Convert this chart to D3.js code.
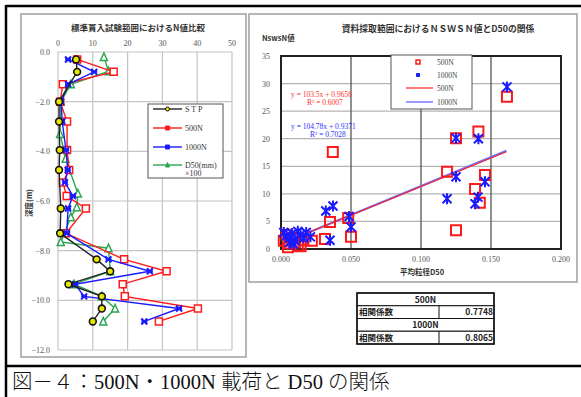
<!DOCTYPE html>
<html>
<head>
<meta charset="utf-8">
<script src="https://cdn.jsdelivr.net/npm/d3@7"></script>
<style>
  html, body { margin: 0; padding: 0; background: #fff; }
  svg { display: block; }
  text { font-family: "Liberation Serif", "DejaVu Serif", "Noto Sans CJK JP", serif; }
  .jp { font-family: "Noto Sans CJK JP", sans-serif; }
</style>
</head>
<body>
<svg id="fig" width="581" height="397"></svg>
<script>
// ---- depth profiles (depth in m, value = N or D50(mm)*100) ----
const stpDepth  = [0.3, 0.8, 2.0, 2.8, 3.95, 4.75, 6.3, 7.3, 8.35, 8.83, 9.35, 9.84, 10.33, 10.85];
const stpN      = [5.2, 5.5, 0.3, 0.3, 0.5, 0.3, 0.8, 0.6, 11.1, 15.0, 3.0, 12.6, 12.6, 10.0];

const loadDepth = [0.3, 0.8, 1.3, 2.0, 2.8, 3.95, 4.75, 5.25, 5.8, 6.3, 7.3, 8.35, 8.83, 9.35, 9.84, 10.33, 10.85];
const n500      = [5.5, 16.0, 1.4, 0.6, 2.6, 2.6, 3.2, 1.4, 2.5, 8.0, 2.3, 19.0, 31.2, 18.6, 19.2, 40.2, 29.0];
const n1000     = [2.9, 10.4, 2.9, 0.9, 1.2, 2.3, 2.8, 2.0, 4.3, 2.9, 2.5, 14.5, 26.4, 4.9, 7.5, 34.8, 24.8];

const d50Depth  = [0.2, 0.78, 1.3, 2.0, 3.3, 4.3, 5.7, 6.25, 6.65, 7.65, 7.9, 8.83, 9.35, 9.84, 10.33, 10.85];
const d50x100   = [13.2, 14.5, 3.7, 0.8, 0.6, 2.2, 5.7, 5.4, 3.7, 0.8, 14.5, 15.0, 4.6, 12.6, 16.4, 13.0];

const depthTicks = [0, -2, -4, -6, -8, -10, -12];
const nTicks     = [0, 10, 20, 30, 40, 50];

// ---- NswsN vs D50 scatter ----
const d50For500  = [0.1614, 0.141, 0.125, 0.037, 0.1186, 0.1457, 0.1386, 0.142, 0.035, 0.048, 0.050, 0.125, 0.0314, 0.022,
                    0.002, 0.004, 0.006, 0.008, 0.010, 0.012, 0.014, 0.016, 0.005];
const nsws500    = [27.6, 21.3, 20.1, 17.6, 14.0, 13.4, 10.9, 8.4, 4.9, 5.6, 2.2, 3.4, 1.8, 1.5,
                    1.5, 2.6, 1.0, 2.0, 1.2, 0.6, 0.5, 1.6, 0.3];
const d50For1000 = [0.1614, 0.125, 0.141, 0.125, 0.1457, 0.1186, 0.1407, 0.1386, 0.0371, 0.032, 0.0486, 0.050, 0.035, 0.021,
                    0.002, 0.004, 0.006, 0.008, 0.010, 0.012, 0.014, 0.016, 0.018, 0.006, 0.009];
const nsws1000   = [29.4, 20.1, 20.0, 13.1, 12.2, 9.1, 9.4, 8.2, 7.8, 6.9, 5.9, 4.0, 1.6, 2.2,
                    3.0, 2.4, 2.0, 2.8, 1.5, 3.2, 2.6, 2.0, 3.0, 1.2, 0.9];

const fit500  = { slope: 103.5,  intercept: 0.9656, r2: "0.6007" };
const fit1000 = { slope: 104.78, intercept: 0.9371, r2: "0.7028" };
const fitRange = [0.002, 0.161];

const d50Ticks  = [0, 0.05, 0.1, 0.15, 0.2];
const nswsTicks = [0, 5, 10, 15, 20, 25, 30, 35];

const corrRows = [["500N", null], ["相関係数", "0.7748"], ["1000N", null], ["相関係数", "0.8065"]];

const svg = d3.select("#fig");
svg.append("rect").attr("width", 581).attr("height", 397).attr("fill", "#fff");

// ---------- outer frame ----------
svg.append("line").attr("x1", 6).attr("x2", 581).attr("y1", 6).attr("y2", 6).attr("stroke", "#000").attr("stroke-width", 2.5);
svg.append("line").attr("x1", 6).attr("x2", 6).attr("y1", 5).attr("y2", 397).attr("stroke", "#000").attr("stroke-width", 2.5);
svg.append("line").attr("x1", 5).attr("x2", 581).attr("y1", 366).attr("y2", 366).attr("stroke", "#000").attr("stroke-width", 2.5);

// chart area boxes
svg.append("rect").attr("x", 21).attr("y", 14).attr("width", 225).attr("height", 343)
  .attr("fill", "#fff").attr("stroke", "#a0a0a0").attr("stroke-width", 1.5);
svg.append("rect").attr("x", 249).attr("y", 14).attr("width", 328).attr("height", 268)
  .attr("fill", "#fff").attr("stroke", "#a0a0a0").attr("stroke-width", 1.5);

// ================= left: depth profile =================
const xL = d3.scaleLinear().domain([0, 50]).range([58, 232]);
const yL = d3.scaleLinear().domain([0, -12]).range([52, 350]);
const gL = svg.append("g");

gL.selectAll(".vg").data(nTicks).join("line")
  .attr("x1", d => xL(d)).attr("x2", d => xL(d)).attr("y1", yL(0)).attr("y2", yL(-12))
  .attr("stroke", "#c4c4c4").attr("stroke-width", 1.2);
gL.selectAll(".hg").data(depthTicks).join("line")
  .attr("x1", xL(0)).attr("x2", xL(50)).attr("y1", d => yL(d)).attr("y2", d => yL(d))
  .attr("stroke", "#c4c4c4").attr("stroke-width", 1.2);

gL.selectAll(".xt").data(nTicks).join("text")
  .attr("x", d => xL(d)).attr("y", 46).attr("text-anchor", "middle")
  .attr("font-size", 8).attr("fill", "#555").text(d => d);
gL.selectAll(".yt").data(depthTicks).join("text")
  .attr("x", 50).attr("y", d => yL(d) + 3).attr("text-anchor", "end")
  .attr("font-size", 8).attr("fill", "#555").text(d => d3.format(".1f")(d));

gL.append("text").attr("class", "jp").attr("x", 138).attr("y", 31).attr("text-anchor", "middle")
  .attr("font-size", 8.5).attr("font-weight", "bold").attr("fill", "#333")
  .text("標準貫入試験範囲におけるN値比較");
gL.append("text").attr("class", "jp")
  .attr("transform", `translate(32,203) rotate(-90)`).attr("text-anchor", "middle")
  .attr("font-size", 7.5).attr("font-weight", "bold").attr("fill", "#333").text("深度(m)");

const lineL = (depths) => d3.line().x((d) => xL(d)).y((d, i) => yL(-depths[i]));

function markerPath(kind, s) {
  const h = s / 2;
  if (kind === "square") return `M${-h},${-h}h${s}v${s}h${-s}Z`;
  if (kind === "tri") return `M0,${-h - 0.5}L${h},${h}L${-h},${h}Z`;
  if (kind === "x") return `M${-h},${-h}L${h},${h}M${-h},${h}L${h},${-h}M${-h},0H${h}`;
  if (kind === "star") return `M${-h},${-h}L${h},${h}M${-h},${h}L${h},${-h}M0,${-h - 1}V${h + 1}`;
  return "";
}

const series = [
  { vals: d50x100, depth: d50Depth, color: "#2aa552", kind: "tri", fill: "#fff", size: 7 },
  { vals: n500, depth: loadDepth, color: "#ff1a1a", kind: "square", fill: "#fff", size: 7 },
  { vals: n1000, depth: loadDepth, color: "#1a1aff", kind: "x", fill: "none", size: 6 },
  { vals: stpN, depth: stpDepth, color: "#222", kind: "circle", fill: "#e6e600", size: 7 },
];
series.forEach(s => {
  gL.append("path").attr("d", lineL(s.depth)(s.vals)).attr("fill", "none")
    .attr("stroke", s.color).attr("stroke-width", 1.4);
  const pts = gL.append("g").selectAll("g").data(s.vals).join("g")
    .attr("transform", (d, i) => `translate(${xL(d)},${yL(-s.depth[i])})`);
  if (s.kind === "circle") {
    pts.append("circle").attr("r", 3.4).attr("fill", s.fill).attr("stroke", "#111").attr("stroke-width", 1.6);
  } else {
    pts.append("path").attr("d", markerPath(s.kind, s.size)).attr("fill", s.fill)
      .attr("stroke", s.color).attr("stroke-width", s.kind === "x" ? 2 : 1.5);
  }
});

// left legend
const legL = gL.append("g");
legL.append("rect").attr("x", 148).attr("y", 104).attr("width", 75).attr("height", 74)
  .attr("fill", "#fff").attr("stroke", "#555").attr("stroke-width", 1);
const legItems = [
  { label: "S T P", y: 109, s: series[3] },
  { label: "500N", y: 128, s: series[1] },
  { label: "1000N", y: 147, s: series[2] },
  { label: "D50(mm)", y: 165, s: series[0] },
];
legItems.forEach(it => {
  legL.append("line").attr("x1", 153).attr("x2", 182).attr("y1", it.y).attr("y2", it.y)
    .attr("stroke", it.s.color).attr("stroke-width", 1.4);
  if (it.s.kind === "circle") {
    legL.append("circle").attr("cx", 167.5).attr("cy", it.y).attr("r", 2).attr("fill", it.s.fill)
      .attr("stroke", "#111").attr("stroke-width", 1);
  } else {
    legL.append("path").attr("transform", `translate(167.5,${it.y})`)
      .attr("d", markerPath(it.s.kind === "x" ? "square" : it.s.kind, 4))
      .attr("fill", it.s.color).attr("stroke", it.s.color).attr("stroke-width", 1);
  }
  legL.append("text").attr("x", 185).attr("y", it.y + 3).attr("font-size", 8).attr("fill", "#333").text(it.label);
});
legL.append("text").attr("x", 185).attr("y", 176).attr("font-size", 8).attr("fill", "#333").text("×100");

// ================= right: NswsN vs D50 =================
const xR = d3.scaleLinear().domain([0, 0.2]).range([281, 561]);
const yR = d3.scaleLinear().domain([0, 35]).range([249, 56]);
const gR = svg.append("g");

gR.selectAll(".hg").data(nswsTicks.slice(1, -1)).join("line")
  .attr("x1", xR(0)).attr("x2", xR(0.2)).attr("y1", d => yR(d)).attr("y2", d => yR(d))
  .attr("stroke", "#b4b4b4").attr("stroke-width", 1.2);
gR.selectAll(".vg").data(d50Ticks.slice(1, -1)).join("line")
  .attr("x1", d => xR(d)).attr("x2", d => xR(d)).attr("y1", yR(0)).attr("y2", yR(35))
  .attr("stroke", "#555").attr("stroke-width", 1.3);
gR.append("rect").attr("x", xR(0)).attr("y", yR(35)).attr("width", xR(0.2) - xR(0)).attr("height", yR(0) - yR(35))
  .attr("fill", "none").attr("stroke", "#222").attr("stroke-width", 2);

gR.selectAll(".yt").data(nswsTicks).join("text")
  .attr("x", 270).attr("y", d => yR(d) + 3).attr("text-anchor", "end")
  .attr("font-size", 8).attr("fill", "#555").text(d => d);
gR.selectAll(".xt").data(d50Ticks).join("text")
  .attr("x", d => xR(d)).attr("y", 262).attr("text-anchor", "middle")
  .attr("font-size", 8).attr("fill", "#555").text(d => d3.format(".3f")(d));

gR.append("text").attr("class", "jp").attr("x", 438).attr("y", 32).attr("text-anchor", "middle")
  .attr("font-size", 8.8).attr("font-weight", "bold").attr("fill", "#333")
  .text("資料採取範囲におけるＮＳＷＳＮ値とD50の関係");
gR.append("text").attr("class", "jp").attr("x", 262).attr("y", 41)
  .attr("font-size", 7.5).attr("font-weight", "bold").attr("fill", "#333").text("NswsN値");
gR.append("text").attr("class", "jp").attr("x", 422).attr("y", 275).attr("text-anchor", "middle")
  .attr("font-size", 7.5).attr("font-weight", "bold").attr("fill", "#333").text("平均粒径D50");

// trend lines
[[fit1000, "#7070ff", 2.2], [fit500, "#ff2020", 1.2]].forEach(([f, c, w]) => {
  gR.append("line")
    .attr("x1", xR(fitRange[0])).attr("y1", yR(f.slope * fitRange[0] + f.intercept))
    .attr("x2", xR(fitRange[1])).attr("y2", yR(f.slope * fitRange[1] + f.intercept))
    .attr("stroke", c).attr("stroke-width", w);
});

// scatter marks
gR.append("g").selectAll("path").data(d50For500).join("path")
  .attr("transform", (d, i) => `translate(${xR(d)},${yR(nsws500[i])})`)
  .attr("d", markerPath("square", 10)).attr("fill", "none").attr("stroke", "#ff1a1a").attr("stroke-width", 2);
gR.append("g").selectAll("path").data(d50For1000).join("path")
  .attr("transform", (d, i) => `translate(${xR(d)},${yR(nsws1000[i])})`)
  .attr("d", markerPath("star", 9)).attr("fill", "none").attr("stroke", "#1a1aff").attr("stroke-width", 2);

// equations
gR.append("text").attr("x", 291).attr("y", 97).attr("font-size", 7.5).attr("fill", "#ff3030")
  .text(`y = ${fit500.slope}x + ${fit500.intercept}`);
gR.append("text").attr("x", 307).attr("y", 105).attr("font-size", 7.5).attr("fill", "#ff3030")
  .text(`R² = ${fit500.r2}`);
gR.append("text").attr("x", 291).attr("y", 129).attr("font-size", 7.5).attr("fill", "#3030ff")
  .text(`y = ${fit1000.slope}x + ${fit1000.intercept}`);
gR.append("text").attr("x", 310).attr("y", 137).attr("font-size", 7.5).attr("fill", "#3030ff")
  .text(`R² = ${fit1000.r2}`);

// right legend
const legR = gR.append("g");
legR.append("rect").attr("x", 391).attr("y", 55).attr("width", 81).attr("height", 54)
  .attr("fill", "#fff").attr("stroke", "#555").attr("stroke-width", 1);
legR.append("path").attr("transform", "translate(418,62)").attr("d", markerPath("square", 4))
  .attr("fill", "#fff").attr("stroke", "#ff1a1a").attr("stroke-width", 1.5);
legR.append("path").attr("transform", "translate(418,75)").attr("d", markerPath("square", 3))
  .attr("fill", "#1a1aff").attr("stroke", "#1a1aff").attr("stroke-width", 1);
legR.append("line").attr("x1", 406).attr("x2", 433).attr("y1", 88).attr("y2", 88).attr("stroke", "#ff3030").attr("stroke-width", 1.3);
legR.append("line").attr("x1", 406).attr("x2", 433).attr("y1", 102).attr("y2", 102).attr("stroke", "#9090ff").attr("stroke-width", 1.8);
[["500N", 62], ["1000N", 75], ["500N", 88], ["1000N", 102]].forEach(([t, y]) => {
  legR.append("text").attr("x", 437).attr("y", y + 3).attr("font-size", 7.5).attr("fill", "#444").text(t);
});

// correlation table
const tb = svg.append("g");
const tX0 = 357, tX1 = 494, tXm = 439, tY0 = 293, rowH = 12.75;
corrRows.forEach((r, i) => {
  const y = tY0 + i * rowH;
  tb.append("rect").attr("x", tX0).attr("y", y).attr("width", tX1 - tX0).attr("height", rowH)
    .attr("fill", "#fff").attr("stroke", "#111").attr("stroke-width", 1);
  if (r[1] === null) {
    tb.append("text").attr("class", "jp").attr("x", (tX0 + tX1) / 2).attr("y", y + 9.5).attr("text-anchor", "middle")
      .attr("font-size", 8.5).attr("font-weight", "bold").attr("fill", "#222").text(r[0]);
  } else {
    tb.append("line").attr("x1", tXm).attr("x2", tXm).attr("y1", y).attr("y2", y + rowH).attr("stroke", "#111");
    tb.append("text").attr("class", "jp").attr("x", tX0 + 2).attr("y", y + 9.5)
      .attr("font-size", 8.5).attr("font-weight", "bold").attr("fill", "#222").text(r[0]);
    tb.append("text").attr("class", "jp").attr("x", tX1 - 1).attr("y", y + 9.5).attr("text-anchor", "end")
      .attr("font-size", 8.5).attr("font-weight", "bold").attr("fill", "#222").text(r[1]);
  }
});
tb.append("rect").attr("x", tX0).attr("y", tY0).attr("width", tX1 - tX0).attr("height", rowH * 4)
  .attr("fill", "none").attr("stroke", "#111").attr("stroke-width", 1.5);

// caption
svg.append("text").attr("x", 12).attr("y", 389).attr("font-size", 20.5).attr("font-weight", 300)
  .attr("font-family", "'Liberation Serif', 'Noto Sans CJK JP', serif").attr("fill", "#111")
  .text("図－４：500N・1000N 載荷と D50 の関係");
</script>
</body>
</html>
